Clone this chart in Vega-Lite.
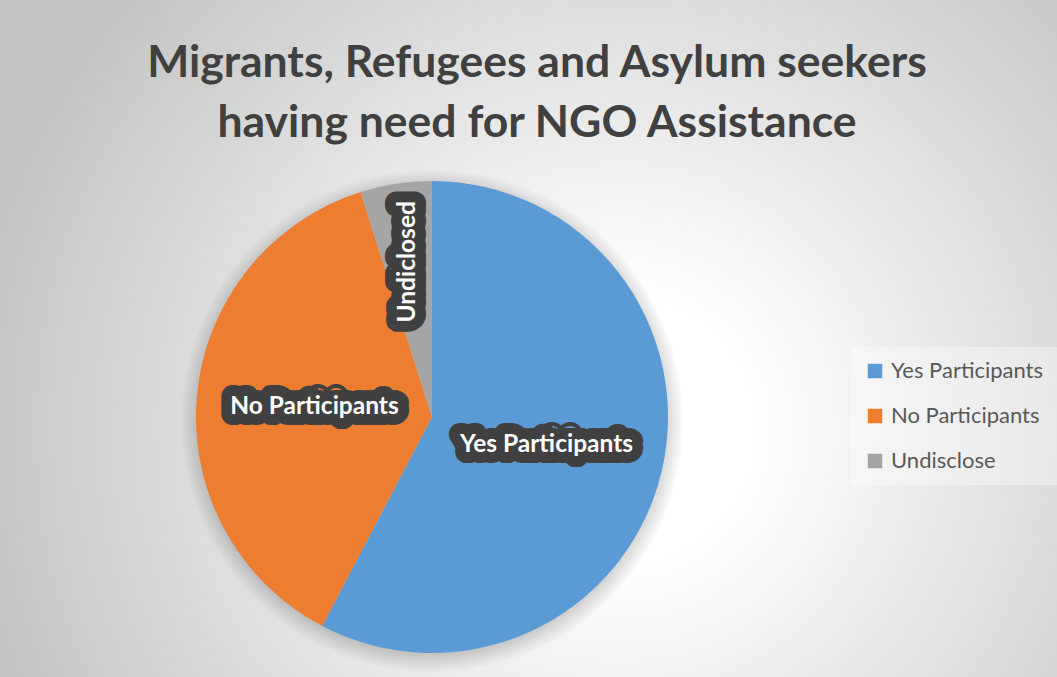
{
  "$schema": "https://vega.github.io/schema/vega-lite/v6.json",
  "width": 848,
  "height": 520,
  "autosize": {"type": "none"},
  "padding": {"left": 8, "top": 157, "right": 201, "bottom": 0},
  "background": "#ffffff",
  "config": {"view": {"stroke": null}, "font": "Lato"},
  "title": {
    "text": ["Migrants, Refugees and Asylum seekers", "having need for NGO Assistance"],
    "font": "Lato",
    "fontSize": 44.5,
    "fontWeight": "bold",
    "color": "#404040",
    "lineHeight": 60,
    "anchor": "middle",
    "frame": "group",
    "dx": 105,
    "dy": 741,
    "offset": 12
  },
  "datasets": {
    "slices": [
      {"category": "Yes Participants", "label": "Yes Participants", "value": 57.7},
      {"category": "No Participants", "label": "No Participants", "value": 37.4},
      {"category": "Undisclose", "label": "Undiclosed", "value": 4.9}
    ],
    "bg": [{"id": 1}]
  },
  "layer": [
    {
      "data": {"name": "bg"},
      "mark": {
        "type": "arc",
        "outerRadius": 1000,
        "theta": 0,
        "theta2": 6.2832,
        "fill": {
          "gradient": "radial",
          "x1": 0.594, "y1": 0.5065, "r1": 0,
          "x2": 0.594, "y2": 0.5065, "r2": 0.325,
          "stops": [
            {"offset": 0, "color": "#ffffff"},
            {"offset": 0.2, "color": "#ffffff"},
            {"offset": 1, "color": "#c4c4c4"}
          ]
        }
      },
      "encoding": {}
    },
    {
      "data": {"name": "bg"},
      "mark": {
        "type": "arc",
        "outerRadius": 252,
        "theta": 0,
        "theta2": 6.2832,
        "yOffset": 4,
        "fill": {
          "gradient": "radial",
          "x1": 0.5, "y1": 0.5, "r1": 0,
          "x2": 0.5, "y2": 0.5, "r2": 0.5,
          "stops": [
            {"offset": 0, "color": "rgba(0,0,0,0.2)"},
            {"offset": 0.92, "color": "rgba(0,0,0,0.18)"},
            {"offset": 1, "color": "rgba(0,0,0,0)"}
          ]
        }
      },
      "encoding": {}
    },
    {
      "data": {"name": "slices"},
      "mark": {"type": "arc", "outerRadius": 236},
      "encoding": {
        "theta": {"field": "value", "type": "quantitative", "stack": true, "scale": {"domain": [0, 100]}},
        "order": {"field": "value", "sort": "descending"},
        "color": {
          "field": "category",
          "type": "nominal",
          "sort": ["Yes Participants", "No Participants", "Undisclose"],
          "scale": {
            "domain": ["Yes Participants", "No Participants", "Undisclose"],
            "range": ["#5B9BD5", "#ED7D31", "#A5A5A5"]
          },
          "legend": {
            "title": null,
            "orient": "none",
            "legendX": 843,
            "legendY": 190,
            "fillColor": "rgba(255,255,255,0.35)",
            "padding": 13,
            "symbolType": "square",
            "symbolSize": 210,
            "symbolStrokeWidth": 0,
            "labelFont": "Lato",
            "labelFontSize": 22,
            "labelColor": "#595959",
            "labelOffset": 5,
            "rowPadding": 23,
            "labelLimit": 300
          }
        }
      }
    },
    {
      "data": {"name": "slices"},
      "mark": {
        "type": "text",
        "font": "Lato",
        "fontSize": 24.5,
        "fontWeight": "bold",
        "fill": "#404040",
        "stroke": "#404040",
        "strokeWidth": 22,
        "strokeJoin": "round",
        "align": "center",
        "baseline": "middle",
        "radius": {"expr": "datum.label === 'Undiclosed' ? 157 : 118"}
      },
      "encoding": {
        "theta": {"field": "value", "type": "quantitative", "stack": true, "scale": {"domain": [0, 100]}},
        "order": {"field": "value", "sort": "descending"},
        "angle": {"condition": {"test": "datum.label === 'Undiclosed'", "value": 270}, "value": 0},
        "text": {"field": "label"}
      }
    },
    {
      "data": {"name": "slices"},
      "mark": {
        "type": "text",
        "font": "Lato",
        "fontSize": 24.5,
        "fontWeight": "bold",
        "fill": "#ffffff",
        "align": "center",
        "baseline": "middle",
        "radius": {"expr": "datum.label === 'Undiclosed' ? 157 : 118"}
      },
      "encoding": {
        "theta": {"field": "value", "type": "quantitative", "stack": true, "scale": {"domain": [0, 100]}},
        "order": {"field": "value", "sort": "descending"},
        "angle": {"condition": {"test": "datum.label === 'Undiclosed'", "value": 270}, "value": 0},
        "text": {"field": "label"}
      }
    }
  ]
}
